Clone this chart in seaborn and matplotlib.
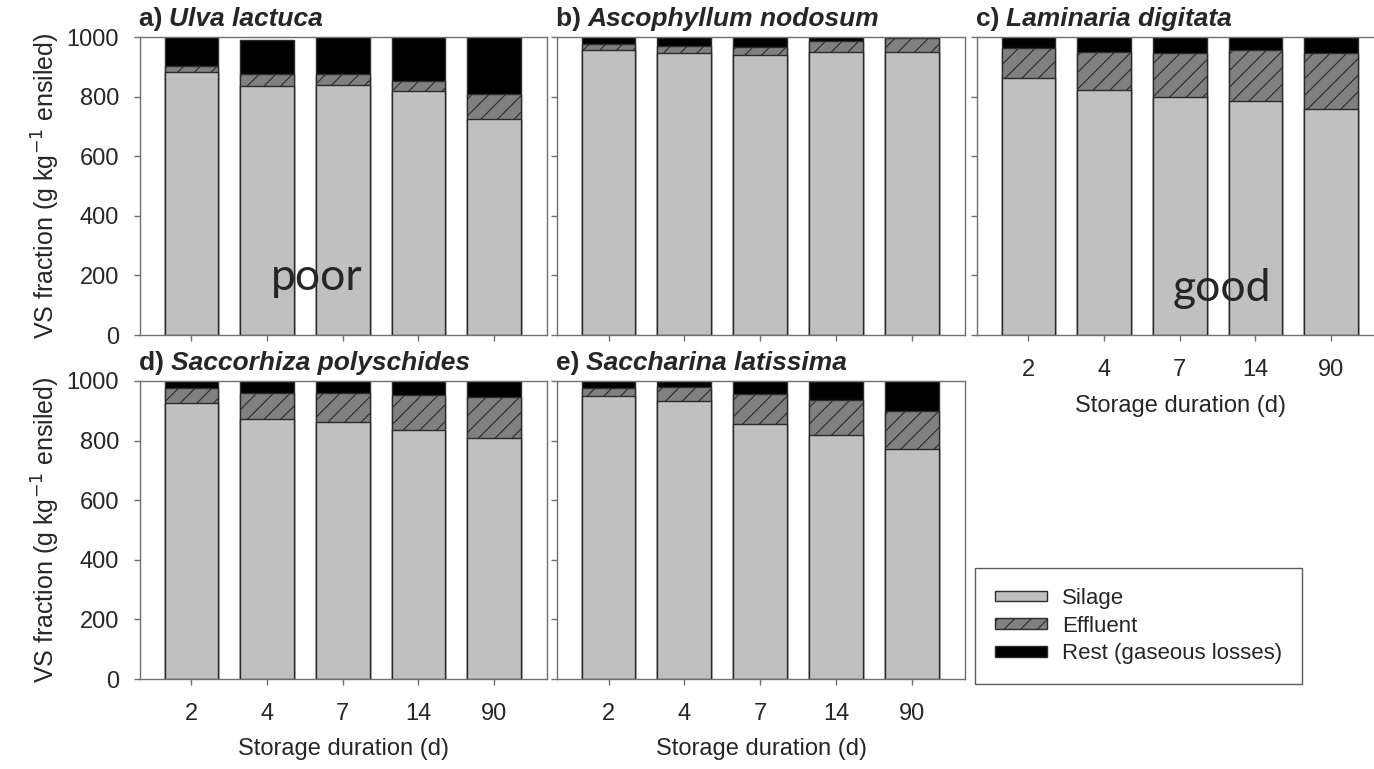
import seaborn as sns
import pandas as pd
import matplotlib.pyplot as plt
from matplotlib.patches import Patch

durations = ['2', '4', '7', '14', '90']

species = ['Ulva lactuca', 'Ascophyllum nodosum', 'Laminaria digitata',
           'Saccorhiza polyschides', 'Saccharina latissima']
letters = ['a', 'b', 'c', 'd', 'e']

## silage / effluent / rest (g kg-1 ensiled)
silage = [
    [883, 837, 839, 818, 724],
    [956, 947, 938, 949, 948],
    [861, 821, 798, 784, 759],
    [925, 874, 861, 835, 810],
    [951, 933, 856, 820, 773],
]
effluent = [
    [20, 39, 37, 35, 85],
    [19, 24, 28, 39, 47],
    [101, 129, 149, 172, 188],
    [50, 87, 100, 118, 137],
    [27, 48, 100, 115, 127],
]
rest = [
    [97, 114, 124, 147, 191],
    [25, 29, 34, 12, 5],
    [38, 50, 53, 44, 53],
    [25, 39, 39, 47, 53],
    [22, 19, 44, 65, 100],
]

sns.set_style('white')
plt.rcParams['font.family'] = ['Liberation Sans', 'DejaVu Sans']
plt.rcParams['hatch.linewidth'] = 0.8

W, H = 1374, 769
fig = plt.figure(figsize=(W / 100, H / 100), dpi=100)

# axes boxes in pixels: left, top, right, bottom
boxes = [
    (140, 37, 547, 335),
    (557, 37, 965, 335),
    (977, 37, 1384, 335),
    (140, 381, 547, 679),
    (557, 381, 965, 679),
]

col_silage = '#c0c0c0'
col_effl = '#808080'
col_rest = '#000000'
edge = '#2b2b2b'
spine_col = '#707070'

for i in range(5):
    l, t, r, b = boxes[i]
    ax = fig.add_axes([l / W, 1 - b / H, (r - l) / W, (b - t) / H])
    df = pd.DataFrame({'duration': durations,
                       'silage': silage[i],
                       'effluent': effluent[i],
                       'rest': rest[i]})
    df['mid'] = df['silage'] + df['effluent']
    df['total'] = df['mid'] + df['rest']

    ## overlay bars, tallest first
    sns.barplot(data=df, x='duration', y='total', order=durations, color=col_rest,
                width=0.71, saturation=1, errorbar=None, edgecolor=edge, linewidth=1, ax=ax)
    sns.barplot(data=df, x='duration', y='mid', order=durations, color=col_effl,
                width=0.71, saturation=1, errorbar=None, edgecolor=edge, linewidth=1,
                hatch='//', ax=ax)
    sns.barplot(data=df, x='duration', y='silage', order=durations, color=col_silage,
                width=0.71, saturation=1, errorbar=None, edgecolor=edge, linewidth=1, ax=ax)

    ax.set_xlim(-0.68, 4.70)
    ax.set_ylim(0, 1000)
    ax.set_yticks(range(0, 1001, 200))
    for s in ax.spines.values():
        s.set_color(spine_col)
        s.set_linewidth(1)
    ax.tick_params(axis='both', direction='out', length=4, width=1, color=spine_col,
                   labelsize=17, left=True, bottom=True)
    ax.tick_params(axis='y', pad=11)
    ax.tick_params(axis='x', pad=13)

    if i in (0, 3):
        ax.set_ylabel('VS fraction (g kg$^{-1}$ ensiled)', fontsize=18, labelpad=3)
    else:
        ax.set_ylabel('')
        ax.set_yticklabels([])
    if i in (2, 3, 4):
        ax.set_xlabel('Storage duration (d)', fontsize=17, labelpad=10)
    else:
        ax.set_xlabel('')
        ax.set_xticklabels([])

    t1 = ax.annotate(letters[i] + ') ', xy=(0, 1), xycoords='axes fraction',
                     xytext=(-1, 4), textcoords='offset points',
                     fontsize=19, fontweight='bold', ha='left', va='bottom')
    ax.annotate(species[i], xy=(1, 0), xycoords=t1, fontsize=19,
                fontweight='bold', fontstyle='italic', ha='left', va='bottom')

    if i == 0:
        ax.text(1.66, 192, 'poor', fontsize=32, ha='center', va='center',
                family=['Lato', 'DejaVu Sans'])
    if i == 2:
        ax.text(2.56, 157, 'good', fontsize=32, ha='center', va='center',
                family=['Lato', 'DejaVu Sans'])

handles = [
    Patch(facecolor=col_silage, edgecolor=edge, label='Silage'),
    Patch(facecolor=col_effl, edgecolor=edge, hatch='//', label='Effluent'),
    Patch(facecolor=col_rest, edgecolor=edge, label='Rest (gaseous losses)'),
]
leg = fig.legend(handles=handles, loc='upper left',
                 bbox_to_anchor=(975 / W, 1 - 568 / H), fontsize=16,
                 frameon=True, fancybox=False, edgecolor='#333333',
                 handlelength=2.35, handleheight=0.35, handletextpad=0.65,
                 borderpad=0.9, labelspacing=0.3, borderaxespad=0)
leg.get_frame().set_linewidth(1)

plt.savefig('out.png', dpi=100)
